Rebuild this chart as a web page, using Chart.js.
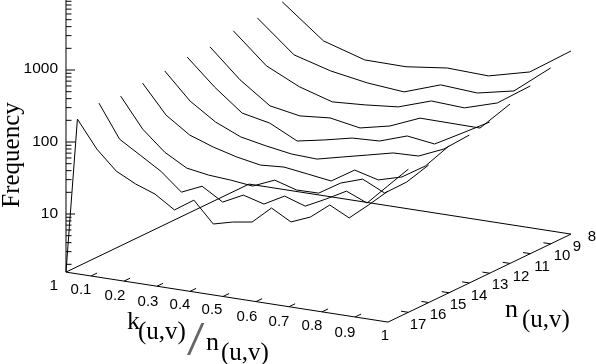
<!DOCTYPE html>
<html>
<head>
<meta charset="utf-8">
<title>Frequency surface</title>
<style>
  html, body { margin: 0; padding: 0; background: #fff; }
  canvas { display: block; }
</style>
<script src="https://cdn.jsdelivr.net/npm/chart.js@4/dist/chart.umd.min.js"></script>
</head>
<body>
<canvas id="surface" width="596" height="364"></canvas>
<script>
// frequency per k/n bin, one list per n (bin j is k = j/n)
const freq8 = [625, 220, 147, 145, 171, 163, 227, 545];
const freq9 = [500, 184, 132, 108, 97.2, 146, 135, 173, 433];
const freq10 = [444, 171, 103, 74.8, 80, 88.5, 126, 119, 164, 333];
const freq11 = [358, 145, 73.1, 61.5, 67, 56.4, 69.7, 104, 103, 102, 255];
const freq12 = [349, 153, 76.4, 63.7, 41.1, 48.8, 59.4, 61.9, 83.4, 74, 120, 196];
const freq13 = [303, 131, 76.2, 53.5, 45.5, 39.9, 38.5, 46.7, 56.4, 68.4, 70.3, 99.8, 177];
const freq14 = [278, 112, 66.7, 51.1, 41.8, 36.3, 38.3, 34.5, 31, 49.4, 40.5, 50.1, 80, 171];
const freq15 = [249, 96.6, 51.6, 34.6, 30.8, 29.3, 27, 36.4, 29.6, 29.9, 46, 58.2, 41.6, 65.9, 127];
const freq16 = [270, 94.4, 62.7, 41.6, 23.6, 31.6, 21.1, 29.2, 24.3, 34.7, 27.9, 38.7, 55.3, 41.9, 80, 152];
const freq17 = [220, 92.9, 50.6, 36.9, 29.4, 19.5, 29.4, 15.1, 17.7, 19.5, 33.6, 23.7, 30.5, 49.4, 36, 60, 103];

const nValues = [8, 9, 10, 11, 12, 13, 14, 15, 16, 17];
const freqByN = [freq8, freq9, freq10, freq11, freq12, freq13, freq14, freq15, freq16, freq17];

const kTicks = [0.1, 0.2, 0.3, 0.4, 0.5, 0.6, 0.7, 0.8, 0.9];
const kLabels = ["0.1", "0.2", "0.3", "0.4", "0.5", "0.6", "0.7", "0.8", "0.9", "1"];
const nTicks = [16, 15, 14, 13, 12, 11, 10, 9];
const nLabels = ["17", "16", "15", "14", "13", "12", "11", "10", "9", "8"];
const freqMajor = [10, 100, 1000];
const freqMinor = [2, 3, 4, 5, 6, 7, 8, 9, 20, 30, 40, 50, 60, 70, 80, 90, 200, 300, 400, 500, 600, 700, 800, 900, 2000, 3000, 4000, 5000, 6000, 7000, 8000, 9000];
const freqLabels = ["1", "10", "100", "1000"];

// view of the box: k runs along the front edge, n goes into the page, freq is log up
const kMin = 0.0242, floorFreq = 1.56, topFreq = 10000;

function project(k, n, f) {
    let t = (17 - n) / 9;
    return {
        x: 58 + 330 * k + 183 * t,
        y: 284.76 + 51.24 * k - 88 * t - 72 * Math.log10(f)
    };
}

function wire(points, width) {
    return {
        data: points,
        showLine: true,
        borderColor: "#000",
        borderWidth: width || 1,
        pointRadius: 0,
        tension: 0
    };
}

let datasets = [];

// curves
nValues.forEach((n, i) => {
    let pts = freqByN[i].map((f, j) => project((j + 1) / n, n, f));
    if (n === 17) pts.unshift(project(kMin, 17, floorFreq)); // the n=17 curve starts on the floor
    datasets.push(wire(pts));
});

// floor of the box
datasets.push(wire([
    project(kMin, 17, floorFreq),
    project(1, 17, floorFreq),
    project(1, 8, floorFreq),
    project(kMin, 8, floorFreq),
    project(kMin, 17, floorFreq)
]));

// vertical axis and its log ticks
let axisFoot = project(kMin, 17, floorFreq);
datasets.push(wire([axisFoot, project(kMin, 17, topFreq)]));
freqMajor.forEach(f => {
    let p = project(kMin, 17, f);
    datasets.push(wire([p, { x: p.x + 9, y: p.y }]));
});
freqMinor.forEach(f => {
    let p = project(kMin, 17, f);
    datasets.push(wire([p, { x: p.x + 5.5, y: p.y }]));
});

// floor ticks
kTicks.forEach(k => {
    datasets.push(wire([project(k, 17, floorFreq), project(k, 16.7, floorFreq)]));
});
nTicks.forEach(n => {
    datasets.push(wire([project(1, n, floorFreq), project(0.978, n, floorFreq)]));
});

// text placed by hand, the labels do not sit evenly along the edges
const kLabelSpots = [[81, 290], [115, 296], [148, 302], [180, 305], [212, 310], [247, 317], [279, 322], [312, 326], [345, 333], [385, 336]];
const nLabelSpots = [[418, 325], [438, 315], [458, 305], [479, 296], [500, 285], [521, 277], [542, 267], [562, 256], [577, 247], [592, 237]];
const freqLabelSpots = [[58, 286], [58, 214], [58, 142], [58, 69]];

const SANS = '"Liberation Sans", sans-serif';
const SERIF = '"Liberation Serif", serif';

const textPlugin = {
    id: "boxText",
    afterDraw(chart) {
        let ctx = chart.ctx;
        let sx = v => chart.scales.x.getPixelForValue(v);
        let sy = v => chart.scales.y.getPixelForValue(v);

        function put(str, x, y, font, align, base) {
            ctx.font = font;
            ctx.textAlign = align;
            ctx.textBaseline = base;
            ctx.fillText(str, sx(x), sy(y));
        }

        ctx.save();
        ctx.fillStyle = "#000";

        kLabels.forEach((s, i) => put(s, kLabelSpots[i][0], kLabelSpots[i][1], "15px " + SANS, "center", "middle"));
        nLabels.forEach((s, i) => put(s, nLabelSpots[i][0], nLabelSpots[i][1], "15px " + SANS, "center", "middle"));
        freqLabels.forEach((s, i) => put(s, freqLabelSpots[i][0], freqLabelSpots[i][1], "15.5px " + SANS, "right", "middle"));

        // axis titles
        put("k", 127, 329, "26px " + SERIF, "left", "alphabetic");
        put("(u,v)", 138, 339, "25px " + SERIF, "left", "alphabetic");
        put("n", 206, 350, "26px " + SERIF, "left", "alphabetic");
        put("(u,v)", 221, 360, "25px " + SERIF, "left", "alphabetic");

        put("n", 505, 317, "26px " + SERIF, "left", "alphabetic");
        put("(u,v)", 522, 327, "25px " + SERIF, "left", "alphabetic");

        // the slash between k and n is tall and thin in the original
        ctx.save();
        ctx.translate(sx(187), sy(355));
        ctx.scale(1.3, 1);
        ctx.font = "48px " + SERIF;
        ctx.fillStyle = "#666";
        ctx.textAlign = "left";
        ctx.textBaseline = "alphabetic";
        ctx.fillText("/", 0, 0);
        ctx.restore();

        ctx.translate(sx(19), sy(155));
        ctx.rotate(-Math.PI / 2);
        ctx.font = "25px " + SERIF;
        ctx.textAlign = "center";
        ctx.textBaseline = "alphabetic";
        ctx.fillText("Frequency", 0, 0);
        ctx.restore();
    }
};

new Chart(document.getElementById("surface").getContext("2d"), {
    type: "scatter",
    data: { datasets: datasets },
    options: {
        responsive: false,
        animation: false,
        layout: { padding: 0 },
        plugins: {
            legend: { display: false },
            tooltip: { enabled: false }
        },
        scales: {
            x: { type: "linear", display: false, min: 0, max: 596 },
            y: { type: "linear", display: false, min: 0, max: 364, reverse: true }
        }
    },
    plugins: [textPlugin]
});
</script>
</body>
</html>
